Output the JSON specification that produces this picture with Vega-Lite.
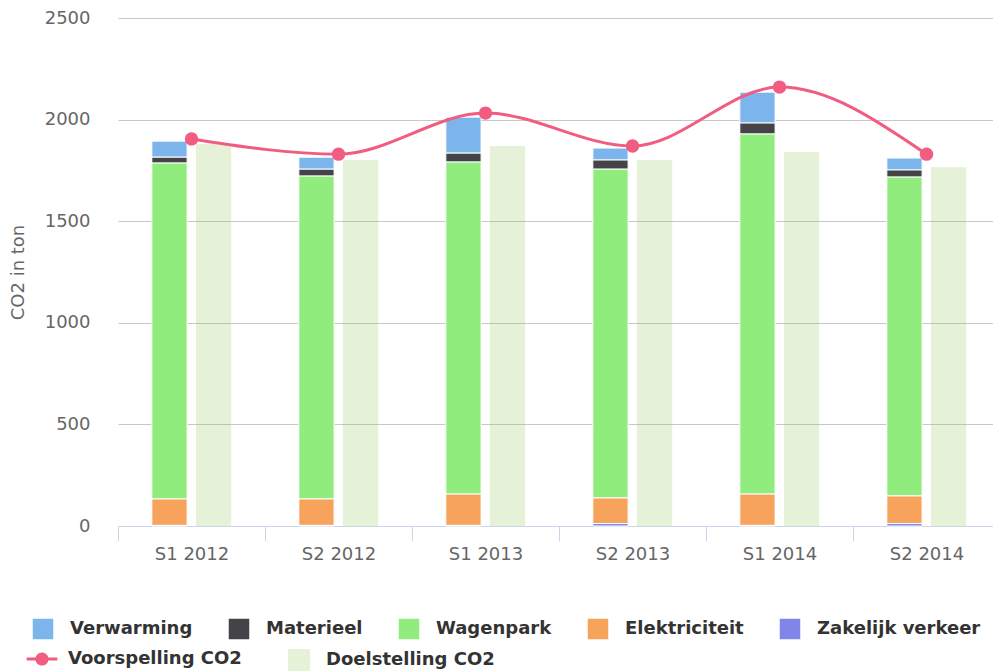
{
  "$schema": "https://vega.github.io/schema/vega-lite/v6.json",
  "width": 882,
  "height": 508,
  "autosize": {"type": "none"},
  "padding": {"left": 118, "top": 18, "right": -7, "bottom": 146},
  "config": {"font": "DejaVu Sans", "view": {"stroke": null}},
  "data": {
    "values": [
      {"period": "S1 2012", "series": "Verwarming", "grp": "stack", "rank": 5, "value": 79},
      {"period": "S1 2012", "series": "Materieel", "grp": "stack", "rank": 4, "value": 29},
      {"period": "S1 2012", "series": "Wagenpark", "grp": "stack", "rank": 3, "value": 1653},
      {"period": "S1 2012", "series": "Elektriciteit", "grp": "stack", "rank": 2, "value": 130},
      {"period": "S1 2012", "series": "Zakelijk verkeer", "grp": "stack", "rank": 1, "value": 3},
      {"period": "S1 2012", "series": "Voorspelling CO2", "grp": "line", "rank": 0, "value": 1905},
      {"period": "S1 2012", "series": "Doelstelling CO2", "grp": "doel", "rank": 1, "value": 1880},
      {"period": "S2 2012", "series": "Verwarming", "grp": "stack", "rank": 5, "value": 59},
      {"period": "S2 2012", "series": "Materieel", "grp": "stack", "rank": 4, "value": 34},
      {"period": "S2 2012", "series": "Wagenpark", "grp": "stack", "rank": 3, "value": 1589},
      {"period": "S2 2012", "series": "Elektriciteit", "grp": "stack", "rank": 2, "value": 130},
      {"period": "S2 2012", "series": "Zakelijk verkeer", "grp": "stack", "rank": 1, "value": 3},
      {"period": "S2 2012", "series": "Voorspelling CO2", "grp": "line", "rank": 0, "value": 1830},
      {"period": "S2 2012", "series": "Doelstelling CO2", "grp": "doel", "rank": 1, "value": 1801},
      {"period": "S1 2013", "series": "Verwarming", "grp": "stack", "rank": 5, "value": 177},
      {"period": "S1 2013", "series": "Materieel", "grp": "stack", "rank": 4, "value": 44},
      {"period": "S1 2013", "series": "Wagenpark", "grp": "stack", "rank": 3, "value": 1634},
      {"period": "S1 2013", "series": "Elektriciteit", "grp": "stack", "rank": 2, "value": 154},
      {"period": "S1 2013", "series": "Zakelijk verkeer", "grp": "stack", "rank": 1, "value": 3},
      {"period": "S1 2013", "series": "Voorspelling CO2", "grp": "line", "rank": 0, "value": 2032},
      {"period": "S1 2013", "series": "Doelstelling CO2", "grp": "doel", "rank": 1, "value": 1870},
      {"period": "S2 2013", "series": "Verwarming", "grp": "stack", "rank": 5, "value": 59},
      {"period": "S2 2013", "series": "Materieel", "grp": "stack", "rank": 4, "value": 45},
      {"period": "S2 2013", "series": "Wagenpark", "grp": "stack", "rank": 3, "value": 1618},
      {"period": "S2 2013", "series": "Elektriciteit", "grp": "stack", "rank": 2, "value": 126},
      {"period": "S2 2013", "series": "Zakelijk verkeer", "grp": "stack", "rank": 1, "value": 12},
      {"period": "S2 2013", "series": "Voorspelling CO2", "grp": "line", "rank": 0, "value": 1870},
      {"period": "S2 2013", "series": "Doelstelling CO2", "grp": "doel", "rank": 1, "value": 1801},
      {"period": "S1 2014", "series": "Verwarming", "grp": "stack", "rank": 5, "value": 152},
      {"period": "S1 2014", "series": "Materieel", "grp": "stack", "rank": 4, "value": 54},
      {"period": "S1 2014", "series": "Wagenpark", "grp": "stack", "rank": 3, "value": 1772},
      {"period": "S1 2014", "series": "Elektriciteit", "grp": "stack", "rank": 2, "value": 154},
      {"period": "S1 2014", "series": "Zakelijk verkeer", "grp": "stack", "rank": 1, "value": 3},
      {"period": "S1 2014", "series": "Voorspelling CO2", "grp": "line", "rank": 0, "value": 2160},
      {"period": "S1 2014", "series": "Doelstelling CO2", "grp": "doel", "rank": 1, "value": 1840},
      {"period": "S2 2014", "series": "Verwarming", "grp": "stack", "rank": 5, "value": 59},
      {"period": "S2 2014", "series": "Materieel", "grp": "stack", "rank": 4, "value": 35},
      {"period": "S2 2014", "series": "Wagenpark", "grp": "stack", "rank": 3, "value": 1569},
      {"period": "S2 2014", "series": "Elektriciteit", "grp": "stack", "rank": 2, "value": 136},
      {"period": "S2 2014", "series": "Zakelijk verkeer", "grp": "stack", "rank": 1, "value": 12},
      {"period": "S2 2014", "series": "Voorspelling CO2", "grp": "line", "rank": 0, "value": 1830},
      {"period": "S2 2014", "series": "Doelstelling CO2", "grp": "doel", "rank": 1, "value": 1766}
    ]
  },
  "encoding": {
    "x": {
      "field": "period",
      "type": "nominal",
      "sort": ["S1 2012", "S2 2012", "S1 2013", "S2 2013", "S1 2014", "S2 2014"],
      "scale": {"paddingInner": 0, "paddingOuter": 0},
      "axis": {
        "title": null,
        "labelAngle": 0,
        "labelFontSize": 18,
        "labelColor": "#666666",
        "domainColor": "#ccd6eb",
        "tickColor": "#ccd6eb",
        "tickSize": 15,
        "tickBand": "extent",
        "labelPadding": 4,
        "grid": false
      }
    }
  },
  "layer": [
    {
      "transform": [{"filter": "datum.grp === 'stack'"}],
      "mark": {"type": "bar", "stroke": "white", "strokeWidth": 1},
      "encoding": {
        "xOffset": {"field": "grp", "type": "nominal", "scale": {"domain": ["stack", "doel"], "paddingInner": 0.2, "paddingOuter": 0.768}},
        "y": {
          "field": "value",
          "type": "quantitative",
          "stack": "zero",
          "scale": {"domain": [0, 2500], "nice": false},
          "axis": {
            "values": [0, 500, 1000, 1500, 2000, 2500],
            "format": "d",
            "title": "CO2 in ton",
            "titleFontSize": 18,
            "titleFontWeight": "normal",
            "titleColor": "#666666",
            "titlePadding": 17,
            "labelFontSize": 18,
            "labelColor": "#666666",
            "labelPadding": 28,
            "domain": false,
            "ticks": false,
            "gridColor": "#c8c8c8",
            "gridWidth": 1
          }
        },
        "order": {"field": "rank", "type": "quantitative", "sort": "ascending"},
        "color": {
          "field": "series",
          "type": "nominal",
          "scale": {
            "domain": ["Verwarming", "Materieel", "Wagenpark", "Elektriciteit", "Zakelijk verkeer"],
            "range": ["#7cb5ec", "#434348", "#90ed7d", "#f7a35c", "#8085e9"]
          },
          "legend": {
            "title": null,
            "orient": "none",
            "legendX": -87,
            "legendY": 599,
            "columns": 5,
            "direction": "horizontal",
            "symbolSize": 484,
            "symbolType": "square",
            "labelFontSize": 18,
            "labelFontWeight": "bold",
            "labelColor": "#333333",
            "labelOffset": 15,
            "labelLimit": 400,
            "columnPadding": 32,
            "padding": 0,
            "encode": {
              "symbols": {
                "update": {
                  "shape": {"value": "square"},
                  "fill": {"scale": "color", "field": "value"},
                  "stroke": {"value": "transparent"},
                  "strokeWidth": {"value": 0},
                  "opacity": {"value": 1}
                }
              }
            }
          }
        }
      }
    },
    {
      "transform": [{"filter": "datum.grp === 'doel'"}],
      "mark": {"type": "bar", "opacity": 0.22},
      "encoding": {
        "xOffset": {"field": "grp", "type": "nominal"},
        "y": {"field": "value", "type": "quantitative", "stack": null},
        "fill": {
          "field": "series",
          "type": "nominal",
          "scale": {"domain": ["Doelstelling CO2"], "range": ["#8bc34a"]},
          "legend": {
            "title": null,
            "orient": "none",
            "legendX": 169,
            "legendY": 630,
            "symbolSize": 484,
            "symbolType": "square",
            "labelFontSize": 18,
            "labelFontWeight": "bold",
            "labelColor": "#333333",
            "labelOffset": 15,
            "labelLimit": 400,
            "padding": 0,
            "encode": {
              "symbols": {
                "update": {
                  "shape": {"value": "square"},
                  "fill": {"value": "#8bc34a"},
                  "stroke": {"value": "transparent"},
                  "strokeWidth": {"value": 0},
                  "opacity": {"value": 0.22}
                }
              }
            }
          }
        }
      }
    },
    {
      "transform": [{"filter": "datum.series === 'Voorspelling CO2'"}],
      "mark": {"type": "line", "interpolate": "monotone", "strokeWidth": 3},
      "encoding": {
        "y": {"field": "value", "type": "quantitative"},
        "stroke": {
          "field": "series",
          "type": "nominal",
          "scale": {"domain": ["Voorspelling CO2"], "range": ["#f15c80"]},
          "legend": {
            "title": null,
            "orient": "none",
            "legendX": -87,
            "legendY": 630,
            "symbolSize": 484,
            "labelFontSize": 18,
            "labelFontWeight": "bold",
            "labelColor": "#333333",
            "labelOffset": 15,
            "labelLimit": 400,
            "padding": 0,
            "encode": {
              "symbols": {
                "update": {
                  "shape": {"value": "M-1.4,-0.14H1.4V0.14H-1.4Z M-0.6,0A0.6,0.6 0 1,1 0.6,0A0.6,0.6 0 1,1 -0.6,0Z"},
                  "fill": {"value": "#f15c80"},
                  "stroke": {"value": "transparent"},
                  "strokeWidth": {"value": 0},
                  "opacity": {"value": 1}
                }
              }
            }
          }
        }
      }
    },
    {
      "transform": [{"filter": "datum.series === 'Voorspelling CO2'"}],
      "mark": {"type": "point", "filled": true, "size": 180, "opacity": 1, "fill": "#f15c80", "stroke": "#f15c80", "strokeWidth": 0},
      "encoding": {
        "y": {"field": "value", "type": "quantitative"}
      }
    }
  ]
}
